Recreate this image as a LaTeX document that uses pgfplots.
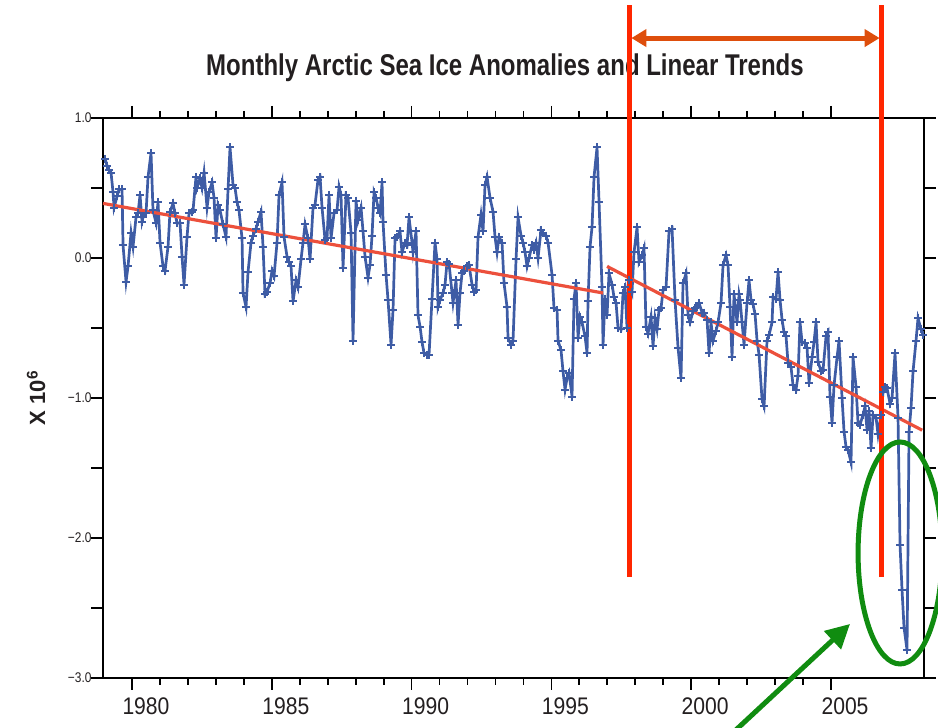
\documentclass[border=0pt]{standalone}
\usepackage{fontspec}
\setmainfont{Liberation Sans}
\newfontfamily\tickfont[FakeStretch=0.88]{Liberation Sans}
\newfontfamily\ytickfont[FakeStretch=0.85]{Liberation Sans}
\newfontfamily\titlefont[FakeStretch=0.8]{Liberation Sans}
\usepackage{pgfplots}
\pgfplotsset{compat=1.18}
\usepackage{pgfplotstable}
\usetikzlibrary{arrows.meta,calc}
\definecolor{datablue}{RGB}{62,92,165}
\definecolor{trendred}{RGB}{236,80,60}
\definecolor{vred}{RGB}{255,38,0}
\definecolor{arrorange}{RGB}{222,78,12}
\definecolor{ggreen}{RGB}{16,140,16}
\definecolor{titlecol}{RGB}{35,31,32}

\pgfplotstableread{
x y
1979.036 0.71
1979.107 0.66
1979.179 0.63
1979.250 0.61
1979.322 0.47
1979.358 0.36
1979.465 0.44
1979.536 0.49
1979.644 0.49
1979.680 0.09
1979.787 -0.17
1979.858 -0.06
1979.966 0.18
1980.037 0.08
1980.144 0.29
1980.216 0.32
1980.288 0.45
1980.359 0.26
1980.395 0.29
1980.502 0.32
1980.574 0.58
1980.681 0.75
1980.752 0.34
1980.860 0.25
1980.931 0.40
1981.003 0.11
1981.110 -0.06
1981.182 -0.09
1981.289 0.08
1981.360 0.33
1981.468 0.39
1981.539 0.32
1981.611 0.25
1981.718 0.25
1981.790 0.01
1981.861 -0.19
1981.968 0.15
1982.040 0.32
1982.147 0.33
1982.183 0.34
1982.290 0.58
1982.326 0.50
1982.433 0.57
1982.505 0.50
1982.577 0.61
1982.684 0.36
1982.755 0.47
1982.863 0.54
1982.934 0.43
1983.006 0.14
1983.077 0.38
1983.149 0.34
1983.256 0.24
1983.363 0.15
1983.435 0.49
1983.506 0.79
1983.614 0.52
1983.685 0.50
1983.757 0.40
1983.828 0.34
1983.936 0.14
1983.971 -0.25
1984.079 -0.35
1984.150 -0.10
1984.257 0.11
1984.329 0.16
1984.436 0.21
1984.508 0.26
1984.615 0.33
1984.687 0.08
1984.758 -0.26
1984.830 -0.24
1984.937 -0.18
1985.009 -0.09
1985.080 -0.13
1985.187 0.11
1985.259 0.45
1985.366 0.54
1985.438 0.15
1985.545 0.01
1985.617 -0.03
1985.688 -0.06
1985.760 -0.31
1985.867 -0.16
1985.938 -0.21
1986.046 -0.01
1986.117 0.11
1986.189 0.24
1986.296 0.14
1986.368 -0.01
1986.475 0.36
1986.546 0.38
1986.654 0.56
1986.725 0.58
1986.797 0.36
1986.904 0.13
1986.976 0.14
1987.047 0.45
1987.119 0.14
1987.226 0.32
1987.333 0.34
1987.405 0.51
1987.476 0.45
1987.548 -0.07
1987.655 0.45
1987.727 0.43
1987.834 0.18
1987.905 -0.59
1988.013 0.41
1988.084 0.27
1988.192 0.36
1988.263 0.19
1988.335 0.01
1988.442 -0.14
1988.513 -0.05
1988.585 0.16
1988.657 0.47
1988.728 0.43
1988.800 0.36
1988.871 0.32
1988.943 0.54
1988.978 0.26
1989.086 -0.12
1989.157 -0.30
1989.265 -0.62
1989.336 -0.37
1989.408 0.14
1989.479 0.15
1989.586 0.19
1989.658 0.04
1989.765 0.11
1989.837 0.09
1989.908 0.29
1990.016 0.11
1990.051 0.04
1990.159 0.19
1990.230 -0.41
1990.302 -0.49
1990.373 -0.60
1990.445 -0.68
1990.552 -0.69
1990.624 -0.69
1990.731 -0.29
1990.838 0.11
1990.910 -0.01
1990.946 -0.35
1991.017 -0.30
1991.124 -0.25
1991.196 -0.19
1991.267 -0.03
1991.339 -0.04
1991.446 -0.25
1991.482 -0.32
1991.589 -0.16
1991.661 -0.48
1991.732 -0.25
1991.804 -0.11
1991.875 -0.09
1991.983 -0.06
1992.054 -0.05
1992.162 -0.19
1992.233 -0.24
1992.305 -0.23
1992.376 0.15
1992.483 0.31
1992.555 0.19
1992.626 0.52
1992.698 0.58
1992.805 0.43
1992.913 0.33
1992.984 0.15
1993.056 0.04
1993.127 0.15
1993.234 0.11
1993.306 -0.18
1993.413 -0.35
1993.449 -0.57
1993.556 -0.62
1993.628 -0.59
1993.735 -0.01
1993.807 0.29
1993.914 0.16
1993.985 0.11
1994.057 0.04
1994.129 -0.06
1994.200 0.00
1994.307 0.09
1994.379 0.06
1994.450 0.11
1994.522 0.00
1994.629 0.20
1994.701 0.18
1994.808 0.16
1994.880 0.11
1995.023 -0.12
1995.094 -0.36
1995.202 -0.37
1995.237 -0.59
1995.345 -0.66
1995.416 -0.81
1995.488 -0.94
1995.559 -0.86
1995.631 -0.82
1995.738 -0.99
1995.810 -0.29
1995.882 -0.18
1995.953 -0.57
1996.025 -0.42
1996.096 -0.46
1996.203 -0.56
1996.275 -0.68
1996.310 -0.31
1996.382 0.08
1996.453 0.22
1996.525 0.58
1996.632 0.79
1996.704 0.40
1996.811 -0.21
1996.847 -0.62
1996.918 -0.29
1996.990 -0.41
1997.061 -0.11
1997.169 -0.19
1997.240 -0.28
1997.312 -0.32
1997.383 -0.50
1997.491 -0.51
1997.562 -0.25
1997.634 -0.21
1997.705 -0.50
1997.777 -0.16
1997.884 -0.24
1997.955 0.04
1998.063 0.22
1998.134 -0.03
1998.242 0.02
1998.313 0.07
1998.385 -0.49
1998.456 -0.54
1998.563 -0.42
1998.635 -0.63
1998.706 -0.43
1998.778 -0.51
1998.850 -0.37
1998.921 -0.36
1998.993 -0.23
1999.100 -0.21
1999.207 0.19
1999.315 0.21
1999.422 -0.30
1999.529 -0.64
1999.636 -0.86
1999.708 -0.18
1999.815 -0.11
1999.887 -0.41
1999.958 -0.46
2000.066 -0.38
2000.137 -0.36
2000.209 -0.35
2000.280 -0.32
2000.387 -0.39
2000.459 -0.39
2000.566 -0.44
2000.638 -0.68
2000.709 -0.46
2000.781 -0.59
2000.888 -0.52
2000.960 -0.46
2001.067 -0.32
2001.139 -0.05
2001.246 0.02
2001.317 -0.05
2001.389 -0.35
2001.460 -0.71
2001.532 -0.26
2001.639 -0.46
2001.711 -0.26
2001.747 -0.30
2001.818 -0.46
2001.890 -0.62
2001.997 -0.32
2002.068 -0.16
2002.140 -0.30
2002.211 -0.33
2002.283 -0.40
2002.355 -0.59
2002.426 -0.69
2002.533 -1.01
2002.605 -1.06
2002.712 -0.59
2002.784 -0.55
2002.891 -0.46
2002.927 -0.28
2003.034 -0.29
2003.106 -0.10
2003.177 -0.30
2003.249 -0.44
2003.320 -0.53
2003.392 -0.56
2003.463 -0.75
2003.571 -0.78
2003.642 -0.91
2003.749 -0.94
2003.821 -0.84
2003.892 -0.46
2003.964 -0.60
2004.071 -0.61
2004.143 -0.64
2004.214 -0.89
2004.322 -0.71
2004.393 -0.60
2004.465 -0.46
2004.536 -0.74
2004.644 -0.81
2004.715 -0.80
2004.822 -0.56
2004.894 -0.53
2004.965 -0.99
2005.037 -1.18
2005.108 -0.91
2005.216 -0.71
2005.287 -0.59
2005.395 -1.00
2005.466 -1.24
2005.538 -1.35
2005.609 -1.37
2005.716 -1.46
2005.788 -0.71
2005.895 -0.92
2005.967 -1.18
2006.038 -1.19
2006.146 -1.12
2006.217 -1.06
2006.289 -1.23
2006.360 -1.09
2006.432 -1.36
2006.503 -1.12
2006.611 -1.14
2006.682 -1.26
2006.789 -1.12
2006.861 -0.96
2006.933 -0.92
2007.004 -0.93
2007.111 -1.04
2007.183 -1.00
2007.290 -0.68
2007.397 -1.14
2007.469 -2.05
2007.540 -2.37
2007.612 -2.64
2007.719 -2.80
2007.791 -1.24
2007.862 -1.07
2007.934 -0.81
2008.041 -0.59
2008.112 -0.43
2008.220 -0.51
2008.291 -0.55
}\seaice

\begin{document}
\begin{tikzpicture}
\begin{axis}[
  name=ax, at={(0,0)}, anchor=south west,
  scale only axis, width=821pt, height=560pt,
  xmin=1978.963, xmax=2008.326, ymin=-3, ymax=1,
  clip=false,
  axis line style={line width=2.5pt, black},
  tick style={line width=1.8pt, black},
  tick align=outside,
  major tick length=12pt, minor tick length=7pt,
  xtick={1980,1985,1990,1995,2000,2005},
  xticklabels={1980,1985,1990,1995,2000,2005},
  minor x tick num=4,
  ytick={-3,-2.5,-2,-1.5,-1,-0.5,0,0.5,1},
  yticklabels={−3.0,{},−2.0,{},−1.0,{},0.0,{},1.0},
  xticklabel style={font=\tickfont\fontsize{24}{24}\selectfont, xshift=14pt, yshift=-4pt, text=titlecol},
  yticklabel style={font=\ytickfont\fontsize{14}{14}\selectfont, xshift=4pt, text=titlecol},
]
\node[anchor=base, font=\titlefont\bfseries\fontsize{30}{30}\selectfont, text=titlecol] at (axis cs:1993.34,1.30) {Monthly Arctic Sea Ice Anomalies and Linear Trends};
\node[rotate=90, font=\bfseries\fontsize{22}{22}\selectfont, text=titlecol] at (axis cs:1976.57,-1.0) {X 10\textsuperscript{6}};

\addplot[datablue, line width=2.7pt, mark=+, mark size=4pt, mark options={line width=2.1pt, solid}] table[x=x, y=y] {\seaice};

\addplot[trendred, line width=3.2pt, no marks] coordinates {(1978.963,0.39) (1996.85,-0.25)};
\addplot[trendred, line width=3.2pt, no marks] coordinates {(1996.99,-0.06) (2008.26,-1.23)};

\draw[vred, line width=5pt] (axis cs:1997.78,-2.279) -- (axis cs:1997.78,1.807);
\draw[vred, line width=5pt] (axis cs:2006.82,-2.279) -- (axis cs:2006.82,1.807);
\draw[arrorange, line width=5pt, {Triangle[length=15pt,width=17pt]}-{Triangle[length=15pt,width=17pt]}] (axis cs:1997.86,1.571) -- (axis cs:2006.74,1.571);
\draw[ggreen, line width=5pt] (axis cs:2007.47,-2.107) ellipse [x radius=42pt, y radius=111pt];
\draw[ggreen, line width=5pt, -{Triangle[length=24pt,width=24pt]}] (axis cs:2001.21,-3.443) -- (axis cs:2005.68,-2.614);
\end{axis}
\pgfresetboundingbox
\path[use as bounding box] ($(ax.south west)+(-103pt,-50pt)$) rectangle ($(ax.south west)+(835pt,678pt)$);
\end{tikzpicture}
\end{document}
